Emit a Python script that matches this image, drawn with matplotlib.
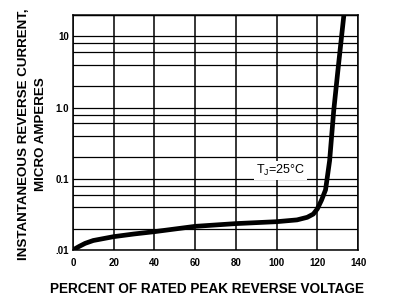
import numpy as np
import matplotlib
matplotlib.use("Agg")
import matplotlib.pyplot as plt

# curve: percent of rated PRV vs reverse current (uA)
volt = [0, 3, 6, 10, 20, 30, 40, 60, 80, 100, 110, 115, 118, 120, 122, 124, 126, 128, 130, 133]
curr = [0.01, 0.0112, 0.0124, 0.0136, 0.0154, 0.0168, 0.0181, 0.0215, 0.0235, 0.025,
        0.0265, 0.0288, 0.032, 0.038, 0.05, 0.07, 0.18, 0.9, 3.2, 20]

xticks = [0, 20, 40, 60, 80, 100, 120, 140]
yticks = [0.01, 0.1, 1, 10]
ylabs = [".01", "0.1", "1.0", "10"]
hgrid = [d*m for d in [0.01, 0.1, 1, 10] for m in [1, 2, 4, 6, 8]] + [20]

plt.rcParams["font.family"] = ["Liberation Sans", "DejaVu Sans"]

fig = plt.figure(figsize=(3.94, 2.95), dpi=100)
ax = fig.add_axes([0.185, 0.1525, 0.724, 0.7965])

for h in hgrid:
    ax.axhline(h, color="black", lw=0.9, zorder=1)
for v in xticks:
    ax.axvline(v, color="black", lw=1.1, zorder=1)

ax.plot(volt, curr, "k-", lw=3.4, solid_capstyle="butt", zorder=3)

ax.set_yscale("log")
ax.set_xlim([0, 140])
ax.set_ylim([0.01, 20])
ax.set_xticks(xticks)
ax.set_xticklabels([str(t) for t in xticks], fontsize=7, fontweight="bold")
ax.set_yticks(yticks)
ax.set_yticklabels(ylabs, fontsize=7, fontweight="bold")
ax.minorticks_off()
ax.tick_params(length=0, pad=6)
ax.tick_params(axis="y", pad=3)
for s in ax.spines.values():
    s.set_linewidth(1.1)

ax.text(102, 0.13, "T$_\\mathregular{J}$=25°C", fontsize=9, ha="center", va="center",
        bbox=dict(facecolor="white", edgecolor="none", pad=1.5), zorder=2)

ax.set_xlabel("PERCENT OF RATED PEAK REVERSE VOLTAGE", fontsize=9.8, fontweight="bold")
ax.xaxis.set_label_coords(0.47, -0.135)
ax.set_ylabel("INSTANTANEOUS REVERSE CURRENT,\nMICRO AMPERES", fontsize=9.6,
              fontweight="bold", linespacing=1.6)
ax.yaxis.set_label_coords(-0.09, 0.494)

fig.savefig("out.png", dpi=100)
